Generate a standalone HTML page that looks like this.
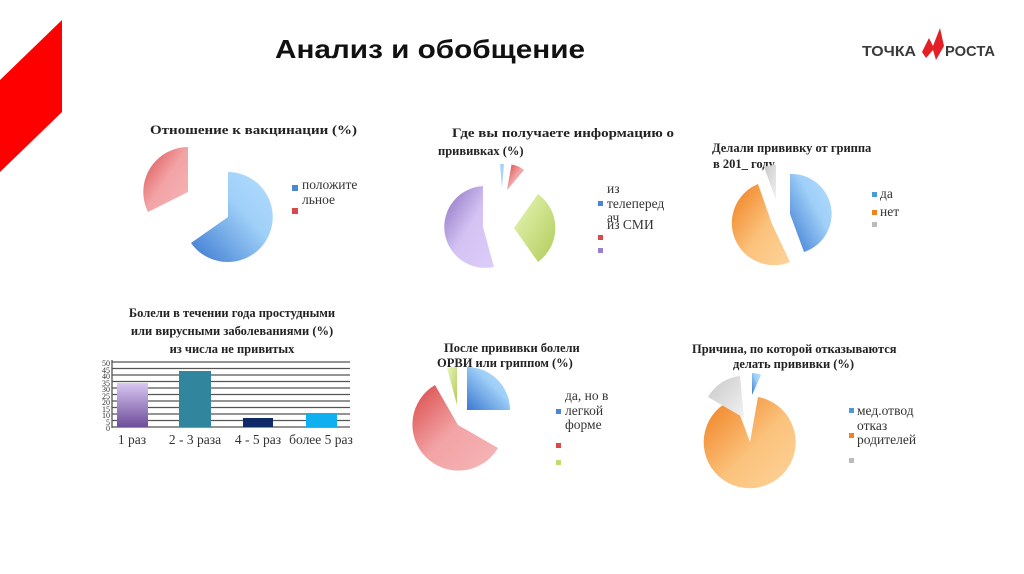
<!DOCTYPE html>
<html><head><meta charset="utf-8"><style>
body{margin:0;background:#fff;width:1024px;height:574px;overflow:hidden}
svg{display:block}
.t{font-family:"Liberation Serif",serif;font-weight:bold;font-size:12.5px;fill:#222}
.l{font-family:"Liberation Serif",serif;font-size:13.5px;fill:#333}
</style></head><body>
<svg width="1024" height="574" viewBox="0 0 1024 574">
<defs>
<linearGradient id="bl" x1="0" y1="1" x2="1" y2="0"><stop offset="0" stop-color="#3b78d0"/><stop offset="0.6" stop-color="#9fd0f8"/><stop offset="1" stop-color="#b5dcff"/></linearGradient>
<linearGradient id="rd" x1="0" y1="0" x2="1" y2="1"><stop offset="0" stop-color="#d94848"/><stop offset="0.5" stop-color="#f2a3a5"/><stop offset="1" stop-color="#f6b6b8"/></linearGradient>
<linearGradient id="pu" x1="0" y1="0" x2="1" y2="1"><stop offset="0" stop-color="#8a6fbf"/><stop offset="0.5" stop-color="#d4c2f3"/><stop offset="1" stop-color="#dccdfa"/></linearGradient>
<linearGradient id="gr" x1="0" y1="0" x2="1" y2="1"><stop offset="0" stop-color="#e8f6b8"/><stop offset="1" stop-color="#b2cc5a"/></linearGradient>
<linearGradient id="or" x1="0" y1="0" x2="1" y2="1"><stop offset="0" stop-color="#f07d1c"/><stop offset="0.55" stop-color="#fbc27c"/><stop offset="1" stop-color="#fdd39a"/></linearGradient>
<linearGradient id="gy" x1="0" y1="0" x2="1" y2="1"><stop offset="0" stop-color="#c8c8c8"/><stop offset="1" stop-color="#f2f2f2"/></linearGradient>
<linearGradient id="bar1" x1="0" y1="1" x2="0" y2="0"><stop offset="0" stop-color="#6e4d9a"/><stop offset="1" stop-color="#d8c6f2"/></linearGradient>
</defs>
<polygon points="0,80 62,20 62,112 0,172" fill="#ff0000"/>
<text x="275" y="58" font-family="Liberation Sans,sans-serif" font-weight="bold" font-size="26" fill="#111" textLength="310" lengthAdjust="spacingAndGlyphs">Анализ и обобщение</text>
<text x="862" y="56" font-family="Liberation Sans,sans-serif" font-weight="bold" font-size="15" fill="#3a3a3a" textLength="54" lengthAdjust="spacingAndGlyphs">ТОЧКА</text>
<polygon points="922,52 929,38 933,46 940,28 944,46 936,60 933,50 926,58" fill="#e32025"/>
<text x="945" y="56" font-family="Liberation Sans,sans-serif" font-weight="bold" font-size="15" fill="#3a3a3a" textLength="50" lengthAdjust="spacingAndGlyphs">РОСТА</text>

<!-- chart 1 -->
<text class="t" x="150" y="134" font-size="13.5" textLength="207" lengthAdjust="spacingAndGlyphs">Отношение к вакцинации (%)</text>
<path d="M228,217 L228,172 A45,45 0 1 1 191,243 Z" fill="url(#bl)"/>
<path d="M188,192 L148,212 A45,45 0 0 1 188,147 Z" fill="url(#rd)"/>
<rect x="292" y="185" width="6" height="6" fill="#4a86d4"/>
<text class="l" x="302" y="189">положите</text>
<text class="l" x="302" y="204">льное</text>
<rect x="292" y="208" width="6" height="6" fill="#d9484a"/>

<!-- chart 2 -->
<text class="t" x="452" y="137" textLength="222" lengthAdjust="spacingAndGlyphs">Где вы получаете информацию о</text>
<text class="t" x="438" y="155">прививках (%)</text>
<path d="M483,227 L494,267 A41,41 0 1 1 483,186 Z" fill="url(#pu)"/>
<path d="M514,228 L538,194 A42,42 0 0 1 538,262 Z" fill="url(#gr)"/>
<path d="M507,190 L511.5,164.5 A26,26 0 0 1 524,170 Z" fill="url(#rd)"/>
<path d="M502,188 L500,164 A24,24 0 0 1 504,164 Z" fill="#a8d4f8"/>
<text class="l" x="607" y="193">из</text>
<rect x="598" y="201" width="5" height="5" fill="#4a86d4"/>
<text class="l" x="607" y="208">телеперед</text>
<text class="l" x="607" y="222">ач</text>
<text class="l" x="607" y="229">из СМИ</text>
<rect x="598" y="235" width="5" height="5" fill="#d9484a"/>
<rect x="598" y="248" width="5" height="5" fill="#9a7fd0"/>

<!-- chart 3 -->
<text class="t" x="712" y="152">Делали прививку от гриппа</text>
<text class="t" x="713" y="168">в 201_ году</text>
<path d="M790,214 L790,174 A40,40 0 0 1 804,252 Z" fill="url(#bl)"/>
<path d="M772,224 L790,262 A42,42 0 1 1 758,184 Z" fill="url(#or)"/>
<path d="M776,200 L764,167 A35,35 0 0 1 776,165 Z" fill="url(#gy)"/>
<rect x="872" y="192" width="5" height="5" fill="#4a9ad4"/>
<text class="l" x="880" y="198">да</text>
<rect x="872" y="210" width="5" height="5" fill="#f0831e"/>
<text class="l" x="880" y="216">нет</text>
<rect x="872" y="222" width="5" height="5" fill="#bbb"/>

<!-- bar chart -->
<text class="t" x="232" y="317" text-anchor="middle">Болели в течении года простудными</text>
<text class="t" x="232" y="335" text-anchor="middle">или вирусными заболеваниями (%)</text>
<text class="t" x="232" y="353" text-anchor="middle">из числа не привитых</text>
<g stroke="#555" stroke-width="1.3">
<line x1="112" y1="362" x2="350" y2="362"/><line x1="112" y1="368.5" x2="350" y2="368.5"/><line x1="112" y1="375" x2="350" y2="375"/><line x1="112" y1="381.5" x2="350" y2="381.5"/><line x1="112" y1="388" x2="350" y2="388"/><line x1="112" y1="394.5" x2="350" y2="394.5"/><line x1="112" y1="401" x2="350" y2="401"/><line x1="112" y1="407.5" x2="350" y2="407.5"/><line x1="112" y1="414" x2="350" y2="414"/><line x1="112" y1="420.5" x2="350" y2="420.5"/><line x1="112" y1="427" x2="350" y2="427"/>
<line x1="112" y1="360" x2="112" y2="428"/>
</g>
<g font-family="Liberation Serif,serif" font-size="8" fill="#333" text-anchor="end">
<text x="110" y="366">50</text><text x="110" y="373">45</text><text x="110" y="379">40</text><text x="110" y="386">35</text><text x="110" y="392">30</text><text x="110" y="399">25</text><text x="110" y="405">20</text><text x="110" y="412">15</text><text x="110" y="418">10</text><text x="110" y="425">5</text><text x="110" y="431">0</text>
</g>
<rect x="117" y="383" width="31" height="44" fill="url(#bar1)"/>
<rect x="179" y="371" width="32" height="56" fill="#31859c"/>
<rect x="243" y="418" width="30" height="9" fill="#0f2a66"/>
<rect x="306" y="413" width="31" height="14" fill="#10b0f0"/>
<g class="l" font-size="12" text-anchor="middle">
<text x="132" y="444">1 раз</text><text x="195" y="444">2 - 3 раза</text><text x="258" y="444">4 - 5 раз</text><text x="321" y="444">более 5 раз</text>
</g>

<!-- chart 5 -->
<text class="t" x="444" y="352">После прививки болели</text>
<text class="t" x="437" y="367">ОРВИ или гриппом (%)</text>
<path d="M467,410 L467,367 A43,43 0 0 1 510,410 Z" fill="url(#bl)"/>
<path d="M458,425 L498,448 A46,46 0 1 1 435,385 Z" fill="url(#rd)"/>
<path d="M457,405 L447,368 A38,38 0 0 1 457,367 Z" fill="url(#gr)"/>
<text class="l" x="565" y="400">да, но в</text>
<rect x="556" y="409" width="5" height="5" fill="#4a86d4"/>
<text class="l" x="565" y="415">легкой</text>
<text class="l" x="565" y="429">форме</text>
<rect x="556" y="443" width="5" height="5" fill="#d9484a"/>
<rect x="556" y="460" width="5" height="5" fill="#c0dc70"/>

<!-- chart 6 -->
<text class="t" x="692" y="353">Причина, по которой отказываются</text>
<text class="t" x="733" y="368">делать прививки (%)</text>
<path d="M750,442 L758,397 A46,46 0 1 1 734,399 Z" fill="url(#or)"/>
<path d="M752,395 L752,373 A22,22 0 0 1 761,375 Z" fill="url(#bl)"/>
<path d="M744,418 L708,397 A42,42 0 0 1 740,376 Z" fill="url(#gy)"/>
<rect x="849" y="408" width="5" height="5" fill="#4a9ad4"/>
<text class="l" x="857" y="415">мед.отвод</text>
<text class="l" x="857" y="430">отказ</text>
<rect x="849" y="433" width="5" height="5" fill="#f0831e"/>
<text class="l" x="857" y="444">родителей</text>
<rect x="849" y="458" width="5" height="5" fill="#bbb"/>
</svg>
</body></html>
